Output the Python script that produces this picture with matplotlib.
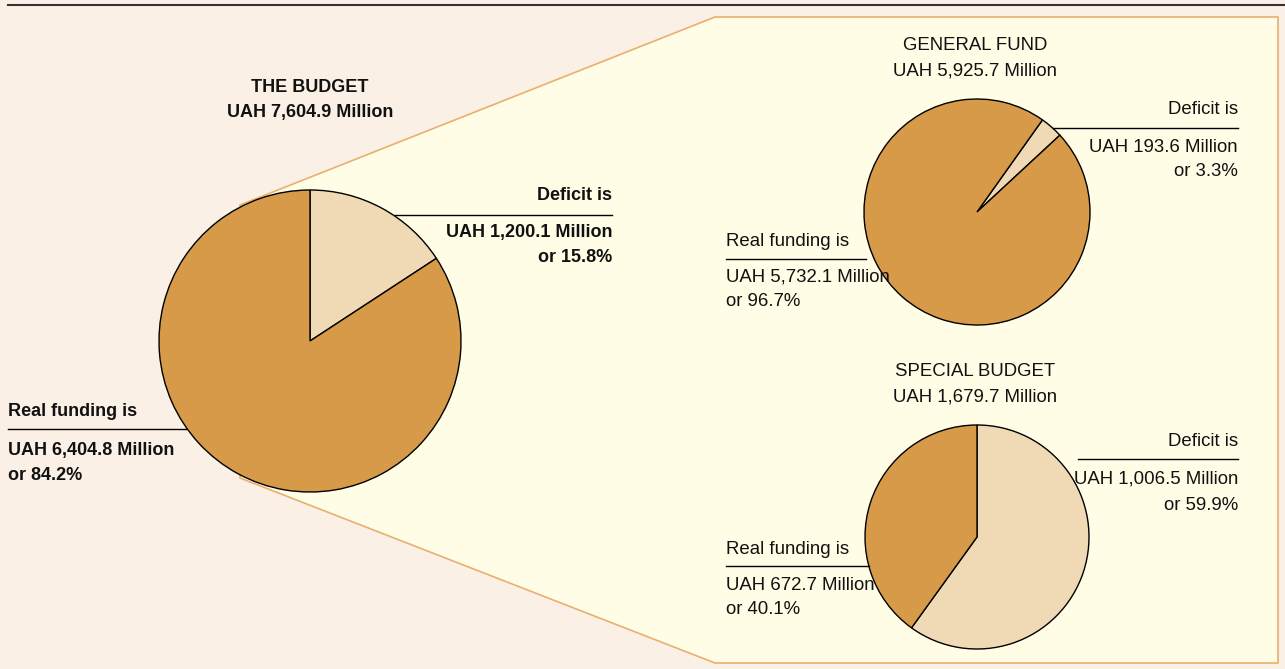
import matplotlib.pyplot as plt
from matplotlib.patches import Polygon

# values (UAH million)
budget_parts = [1200.1, 6404.8]        # deficit, real funding
general_parts = [193.6, 5732.1]
special_parts = [1006.5, 672.7]

budget_labels = ["THE BUDGET", "UAH 7,604.9 Million"]
general_labels = ["GENERAL FUND", "UAH 5,925.7 Million"]
special_labels = ["SPECIAL BUDGET", "UAH 1,679.7 Million"]
deficit_text = [("UAH 1,200.1 Million", "or 15.8%"),
                ("UAH 193.6 Million", "or 3.3%"),
                ("UAH 1,006.5 Million", "or 59.9%")]
funding_text = [("UAH 6,404.8 Million", "or 84.2%"),
                ("UAH 5,732.1 Million", "or 96.7%"),
                ("UAH 672.7 Million", "or 40.1%")]

W, H = 1285, 669
BG = "#faf0e6"
PANEL = "#fffde6"
EDGE = "#e8b070"
DARK = "#d69a48"
LIGHT = "#f0d9b5"
FONT = ["Liberation Sans", "DejaVu Sans"]

fig = plt.figure(figsize=(W / 100, H / 100), dpi=100, facecolor=BG)
ax = fig.add_axes([0, 0, 1, 1])
ax.set_facecolor(BG)


def Y(y):
    # image y (top down) -> data y
    return H - y


# zoom panel behind everything
panel = Polygon([(240, Y(205)), (715, Y(17)), (1278, Y(17)), (1278, Y(663)),
                 (715, Y(663)), (240, Y(478))],
                closed=True, facecolor=PANEL, edgecolor=EDGE, lw=1.2, zorder=0)
ax.add_patch(panel)

# top rule
ax.plot([8, W], [Y(5), Y(5)], color="#333333", lw=1.5, zorder=1)

wedge = dict(edgecolor="black", linewidth=1)
ax.pie(budget_parts, colors=[LIGHT, DARK], startangle=90, counterclock=False,
       center=(310, Y(341)), radius=151, wedgeprops=wedge, frame=True)
ax.pie(general_parts, colors=[LIGHT, DARK], startangle=54.6, counterclock=False,
       center=(977, Y(212)), radius=113, wedgeprops=wedge, frame=True)
ax.pie(special_parts, colors=[LIGHT, DARK], startangle=90, counterclock=False,
       center=(977, Y(537)), radius=112, wedgeprops=wedge, frame=True)


def txt(x, y, s, ha="left", bold=False):
    size = 13 if bold else 13.4
    ax.text(x, Y(y), s, ha=ha, va="center", fontsize=size, family=FONT,
            fontweight="bold" if bold else "normal", color="#111111", zorder=5)


def hline(x0, x1, y):
    ax.plot([x0, x1], [Y(y), Y(y)], color="black", lw=1, zorder=4)


# big pie
txt(310, 87, budget_labels[0], ha="center", bold=True)
txt(310, 112, budget_labels[1], ha="center", bold=True)
txt(612, 195, "Deficit is", ha="right", bold=True)
hline(395, 612, 215)
txt(612, 232, deficit_text[0][0], ha="right", bold=True)
txt(612, 257, deficit_text[0][1], ha="right", bold=True)
txt(8, 411, "Real funding is", bold=True)
hline(8, 186, 429)
txt(8, 450, funding_text[0][0], bold=True)
txt(8, 475, funding_text[0][1], bold=True)

# general fund
txt(975, 45, general_labels[0], ha="center")
txt(975, 71, general_labels[1], ha="center")
txt(1238, 110, "Deficit is", ha="right")
hline(1053, 1238, 128)
txt(1238, 147, deficit_text[1][0], ha="right")
txt(1238, 172, deficit_text[1][1], ha="right")
txt(726, 241, "Real funding is")
hline(726, 866, 259)
txt(726, 277, funding_text[1][0])
txt(726, 302, funding_text[1][1])

# special budget
txt(975, 372, special_labels[0], ha="center")
txt(975, 397, special_labels[1], ha="center")
txt(1238, 441, "Deficit is", ha="right")
hline(1078, 1238, 459)
txt(1238, 479, deficit_text[2][0], ha="right")
txt(1238, 505, deficit_text[2][1], ha="right")
txt(726, 549, "Real funding is")
hline(726, 869, 566)
txt(726, 585, funding_text[2][0])
txt(726, 610, funding_text[2][1])

ax.set_xlim(0, W)
ax.set_ylim(0, H)
ax.set_aspect("auto")
ax.axis("off")

fig.savefig("out.png", dpi=100, facecolor=BG)
